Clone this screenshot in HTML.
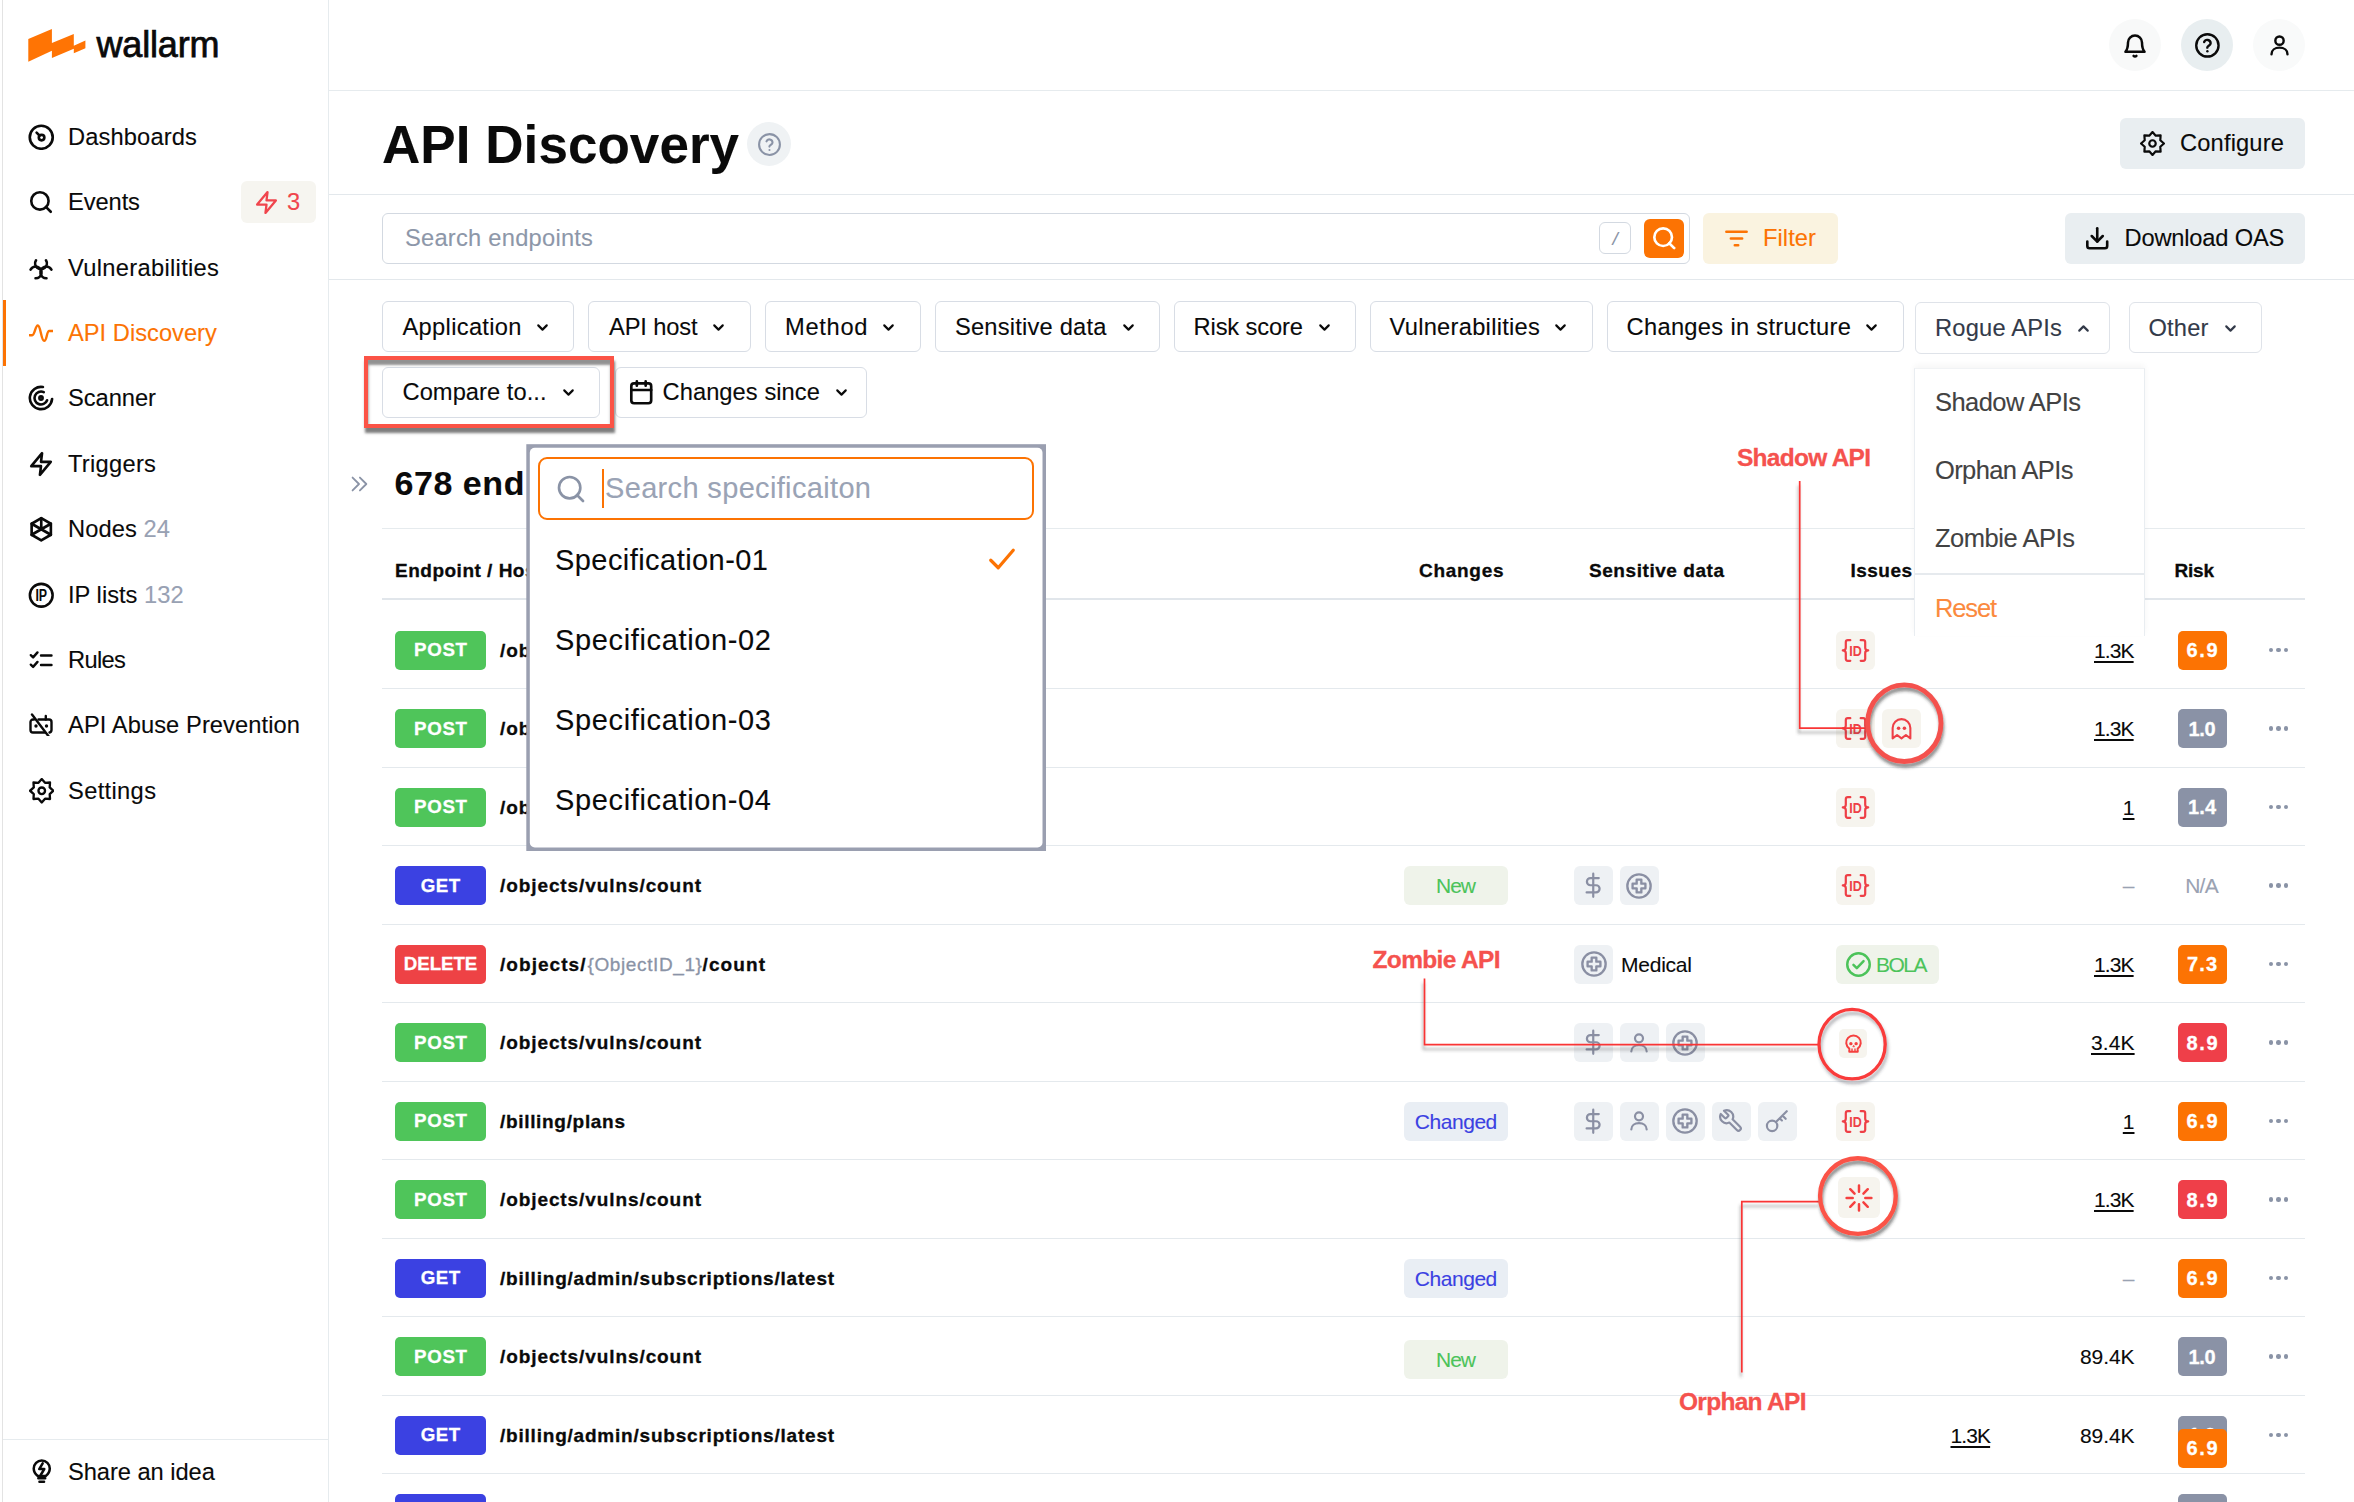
<!DOCTYPE html>
<html lang="en"><head><meta charset="utf-8"><title>API Discovery - Wallarm</title>
<style>
html,body{margin:0;padding:0;background:#fff}
body{width:2354px;height:1502px;position:relative;overflow:hidden;font-family:"Liberation Sans",sans-serif}
.b{position:absolute;display:block}
.t{position:absolute;white-space:nowrap;display:block;-webkit-text-stroke:0.1px currentColor}
</style></head><body>
<aside><nav>
<div class="b" style="left:2px;top:0px;width:1px;height:1502px;background:#e3e3e3"></div>
<div class="b" style="left:328px;top:0px;width:1px;height:1502px;background:#e6ebee"></div>
<svg class="b" style="left:0;top:0" width="100" height="70" viewBox="0 0 100 70"><path fill="#ff7404" d="M28.300 39.100L51.900 28.900V43.100L73.800 34V45.700L85.400 40.400V48.200L73.800 53.300V48.700L51.900 57.900V50.800L28.300 61.800z"/></svg>
<span class="t" style="left:96.5px;top:20.6px;font-size:36px;line-height:47px;color:#0a0a0a;letter-spacing:-0.17px;-webkit-text-stroke:0.75px #0a0a0a;">wallarm</span>
<svg class="b" style="left:28.05px;top:123.55px;" width="26.5" height="26.5" viewBox="0 0 24 24" fill="none" stroke="#0a0a0a" stroke-width="2.4" stroke-linecap="round" stroke-linejoin="round"><circle cx="12" cy="12" r="10.400"/><circle cx="12.300" cy="12.300" r="2.500"/><path d="M10.500 10.500L7.800 7.800"/></svg>
<span class="t" style="left:68.0px;top:121.8px;font-size:23.7px;line-height:31px;color:#0a0a0a;letter-spacing:0.13px;">Dashboards</span>
<svg class="b" style="left:27.7px;top:189.3px;" width="26" height="26" viewBox="0 0 24 24" fill="none" stroke="#0a0a0a" stroke-width="2.4" stroke-linecap="round" stroke-linejoin="round"><circle cx="11" cy="11" r="8"/><path d="M21 21l-4.5-4.5"/></svg>
<span class="t" style="left:68.0px;top:187.2px;font-size:23.7px;line-height:31px;color:#0a0a0a;letter-spacing:-0.09px;">Events</span>
<svg class="b" style="left:28.3px;top:254.6px;" width="26" height="26" viewBox="0 0 24 24" fill="none" stroke="#0a0a0a" stroke-width="2.4" stroke-linecap="round" stroke-linejoin="round"><path d="M16.58 4.84A5.40 5.40 0 1 1 7.42 4.84"/><path d="M17.04 21.50A5.40 5.40 0 1 1 21.62 13.56"/><path d="M2.38 13.56A5.40 5.40 0 1 1 6.96 21.50"/></svg>
<span class="t" style="left:68.0px;top:252.6px;font-size:23.7px;line-height:31px;color:#0a0a0a;letter-spacing:0.31px;">Vulnerabilities</span>
<svg class="b" style="left:29.3px;top:320.7px;" width="24" height="24" viewBox="0 0 24 24" fill="none" stroke="#fc7303" stroke-width="2.4" stroke-linecap="round" stroke-linejoin="round"><path d="M0.5 14.2h2.700c2.600 0 3-9.700 5.600-9.700c3 0 3.200 15.300 6.400 15.300c2.800 0 2.400-9.800 4.900-9.800H23.500"/></svg>
<span class="t" style="left:68.0px;top:318.0px;font-size:23.7px;line-height:31px;color:#fc7303;letter-spacing:0.01px;">API Discovery</span>
<svg class="b" style="left:28.3px;top:385.4px;" width="26" height="26" viewBox="0 0 24 24" fill="none" stroke="#0a0a0a" stroke-width="2.4" stroke-linecap="round" stroke-linejoin="round"><path d="M13.79 1.86A10.3 10.3 0 1 0 22.26 12.90"/><path d="M14.54 6.56A6 6 0 1 0 17.64 14.05"/><circle cx="12" cy="12" r="1.500"/></svg>
<span class="t" style="left:68.0px;top:383.4px;font-size:23.7px;line-height:31px;color:#0a0a0a;letter-spacing:-0.05px;">Scanner</span>
<svg class="b" style="left:28.2px;top:450.8px;" width="26" height="26" viewBox="0 0 24 24" fill="none" stroke="#0a0a0a" stroke-width="2.4" stroke-linecap="round" stroke-linejoin="round"><path d="M13 2L3 14h9l-1 8 10-12h-9l1-8z"/></svg>
<span class="t" style="left:68.0px;top:448.8px;font-size:23.7px;line-height:31px;color:#0a0a0a;letter-spacing:0.28px;">Triggers</span>
<svg class="b" style="left:28.05px;top:515.95px;" width="26.5" height="26.5" viewBox="0 0 24 24" fill="none" stroke="#0a0a0a" stroke-width="2.4" stroke-linecap="round" stroke-linejoin="round"><path d="M12 2l8.700 5v10L12 22l-8.700-5V7z"/><path d="M12 2v10M12 12l8.700 5M12 12l-8.700 5M3.300 7L12 12M20.700 7L12 12" /></svg>
<span class="t" style="left:68.0px;top:514.2px;font-size:23.7px;line-height:31px;color:#0a0a0a;letter-spacing:0.12px;">Nodes</span>
<span class="t" style="left:143.5px;top:514.2px;font-size:23.7px;line-height:31px;color:#98a1b3;letter-spacing:0.1px;">24</span>
<svg class="b" style="left:28.25px;top:581.55px;" width="26.5" height="26.5" viewBox="0 0 24 24" fill="none" stroke="#0a0a0a" stroke-width="2.3" stroke-linecap="round" stroke-linejoin="round"><circle cx="12" cy="12" r="10.300"/><text x="12" y="17.100" text-anchor="middle" font-family="Liberation Sans, sans-serif" font-weight="700" font-size="14.300" textLength="10.600" lengthAdjust="spacingAndGlyphs" fill="#0a0a0a" stroke="none">IP</text></svg>
<span class="t" style="left:68.0px;top:579.6px;font-size:23.7px;line-height:31px;color:#0a0a0a;letter-spacing:0.02px;">IP lists</span>
<span class="t" style="left:144.0px;top:579.6px;font-size:23.7px;line-height:31px;color:#98a1b3;letter-spacing:0.1px;">132</span>
<svg class="b" style="left:29.3px;top:648px;" width="24" height="24" viewBox="0 0 24 24" fill="none" stroke="#0a0a0a" stroke-width="2.4" stroke-linecap="round" stroke-linejoin="round"><path d="M1.800 7.200l2.300 2.200 4.400-5M1.800 16.700l2.300 2.200 4.400-5M12 7.500h10.500M12 17h10.500"/></svg>
<span class="t" style="left:68.0px;top:645.0px;font-size:23.7px;line-height:31px;color:#0a0a0a;letter-spacing:-0.65px;">Rules</span>
<svg class="b" style="left:29.3px;top:711.8px;" width="24" height="24" viewBox="0 0 24 24" fill="none" stroke="#0a0a0a" stroke-width="2.4" stroke-linecap="round" stroke-linejoin="round"><path d="M9.500 7.500H20a2.500 2.500 0 0 1 2.500 2.500v8a2.500 2.500 0 0 1-2 2.450M16 20.500H4A2.500 2.500 0 0 1 1.500 18v-8a2.500 2.500 0 0 1 2.500-2.500h1"/><path d="M16.800 7.500V4M3 2.500l17.500 23"/><path d="M7 14v.1M17.500 14v.1" stroke-width="3.400"/></svg>
<span class="t" style="left:68.0px;top:710.4px;font-size:23.7px;line-height:31px;color:#0a0a0a;letter-spacing:0.08px;">API Abuse Prevention</span>
<svg class="b" style="left:28.55px;top:778.05px;" width="25.5" height="25.5" viewBox="0 0 24 24" fill="none" stroke="#0a0a0a" stroke-width="2.2" stroke-linecap="round" stroke-linejoin="round"><path d="M12.00 1.00L15.10 4.52L19.78 4.22L19.48 8.90L23.00 12.00L19.48 15.10L19.78 19.78L15.10 19.48L12.00 23.00L8.90 19.48L4.22 19.78L4.52 15.10L1.00 12.00L4.52 8.90L4.22 4.22L8.90 4.52z"/><circle cx="12" cy="12" r="3.100"/></svg>
<span class="t" style="left:68.0px;top:775.8px;font-size:23.7px;line-height:31px;color:#0a0a0a;letter-spacing:0.34px;">Settings</span>
<div class="b" style="left:2.5px;top:300px;width:3.5px;height:66px;background:#fc7303"></div>
<div class="b" style="left:241px;top:181px;width:75px;height:42px;background:#f6f5f0;border-radius:6px"></div>
<svg class="b" style="left:254px;top:190px;" width="25" height="25" viewBox="0 0 24 24" fill="none" stroke="#f0454d" stroke-width="2.2" stroke-linecap="round" stroke-linejoin="round"><path d="M13 2L3 14h9l-1 8 10-12h-9l1-8z"/></svg>
<span class="t" style="left:287.0px;top:187.3px;font-size:23.7px;line-height:31px;color:#f0454d;">3</span>
<div class="b" style="left:3px;top:1439px;width:325px;height:1px;background:#e6ebee"></div>
<svg class="b" style="left:27.55px;top:1457.05px;" width="27.5" height="27.5" viewBox="0 0 24 24" fill="none" stroke="#0a0a0a" stroke-width="2.2" stroke-linecap="round" stroke-linejoin="round"><path d="M9 18.500h6M10 21.500h4"/><path d="M8.500 16.500C6.500 15 5 13 5 10a7 7 0 0 1 14 0c0 3-1.500 5-3.500 6.500z"/><path d="M12.800 5.500L9.800 10.500h4.400l-3 5"/></svg>
<span class="t" style="left:68.0px;top:1457.0px;font-size:23.7px;line-height:31px;color:#0a0a0a;letter-spacing:-0.05px;">Share an idea</span>
</nav></aside><header>
<div class="b" style="left:329px;top:90px;width:2025px;height:1px;background:#e6ebee"></div>
<div class="b" style="left:2109px;top:19px;width:52px;height:52px;background:#f8f9f9;border-radius:50%"></div>
<svg class="b" style="left:2121px;top:31.5px;" width="28" height="28" viewBox="0 0 24 24" fill="none" stroke="#0a0a0a" stroke-width="2.15" stroke-linecap="round" stroke-linejoin="round"><path d="M18 9a6 6 0 0 0-12 0c0 5-1.2 6.8-2.2 8h16.400c-1-1.200-2.200-3-2.200-8z"/><path d="M10.800 20.500a1.600 1.600 0 0 0 2.400 0"/></svg>
<div class="b" style="left:2181px;top:19px;width:52px;height:52px;background:#e8eef0;border-radius:50%"></div>
<svg class="b" style="left:2193.6px;top:32.1px;" width="26.8" height="26.8" viewBox="0 0 24 24" fill="none" stroke="#0a0a0a" stroke-width="2.15" stroke-linecap="round" stroke-linejoin="round"><circle cx="12" cy="12" r="10"/><path d="M9.100 9a3 3 0 0 1 5.800 1c0 2-3 2.600-3 4"/><path d="M12 17.200v.1"/></svg>
<div class="b" style="left:2253px;top:19px;width:52px;height:52px;background:#f9fafa;border-radius:50%"></div>
<svg class="b" style="left:2265.5px;top:32px;" width="27" height="27" viewBox="0 0 24 24" fill="none" stroke="#0a0a0a" stroke-width="2.15" stroke-linecap="round" stroke-linejoin="round"><circle cx="12" cy="7.700" r="3.700"/><path d="M4.900 19.800c0-3.700 3.200-5.900 7.100-5.900s7.100 2.200 7.100 5.900"/></svg>
</header><main><section>
<span class="t" style="left:382.0px;top:110.0px;font-size:53px;line-height:69px;color:#0a0a0a;letter-spacing:0.05px;font-weight:700;">API Discovery</span>
<div class="b" style="left:747px;top:122px;width:44px;height:44px;background:#eff2f4;border-radius:50%"></div>
<svg class="b" style="left:756.5px;top:131.5px;" width="25" height="25" viewBox="0 0 24 24" fill="none" stroke="#8a93a6" stroke-width="2" stroke-linecap="round" stroke-linejoin="round"><circle cx="12" cy="12" r="10"/><path d="M9.100 9a3 3 0 0 1 5.800 1c0 2-3 2.600-3 4"/><path d="M12 17.200v.1"/></svg>
<div class="b" style="left:2120px;top:117.5px;width:185px;height:51.5px;background:#e9eef1;border-radius:6px"></div>
<svg class="b" style="left:2140px;top:130.5px;" width="25" height="25" viewBox="0 0 24 24" fill="none" stroke="#0a0a0a" stroke-width="2.1" stroke-linecap="round" stroke-linejoin="round"><path d="M12.00 1.00L15.10 4.52L19.78 4.22L19.48 8.90L23.00 12.00L19.48 15.10L19.78 19.78L15.10 19.48L12.00 23.00L8.90 19.48L4.22 19.78L4.52 15.10L1.00 12.00L4.52 8.90L4.22 4.22L8.90 4.52z"/><circle cx="12" cy="12" r="3.100"/></svg>
<span class="t" style="left:2180.0px;top:128.0px;font-size:23.7px;line-height:31px;color:#0a0a0a;letter-spacing:0.15px;">Configure</span>
<div class="b" style="left:329px;top:194px;width:2025px;height:1px;background:#e3e8ec"></div>
</section><section>
<div class="b" style="left:382px;top:212.5px;width:1308px;height:51.5px;border:1px solid #d3d9e1;border-radius:6px;box-sizing:border-box;background:#fff"></div>
<span class="t" style="left:405.0px;top:222.5px;font-size:23.7px;line-height:31px;color:#8d97a9;letter-spacing:0.24px;">Search endpoints</span>
<div class="b" style="left:1598.5px;top:222px;width:32.5px;height:32px;border:1px solid #d3d9e1;border-radius:6px;box-sizing:border-box;background:#fff"></div>
<span class="t" style="left:1612.4px;top:225.5px;font-size:19px;line-height:25px;color:#8a93a6;font-style:italic;">/</span>
<div class="b" style="left:1644px;top:218.5px;width:39.5px;height:39px;background:#fc7303;border-radius:6px"></div>
<svg class="b" style="left:1650.75px;top:225.05px;" width="26.5" height="26.5" viewBox="0 0 24 24" fill="none" stroke="#fff" stroke-width="2.4" stroke-linecap="round" stroke-linejoin="round"><circle cx="11" cy="11" r="8"/><path d="M21 21l-4.5-4.5"/></svg>
<div class="b" style="left:1703px;top:212.5px;width:134.5px;height:51.5px;background:#faf3e0;border-radius:6px"></div>
<svg class="b" style="left:1722.5px;top:225px;" width="27" height="27" viewBox="0 0 24 24" fill="none" stroke="#fc7303" stroke-width="2.3" stroke-linecap="round" stroke-linejoin="round"><path d="M3 6h18M7 12h10M10.500 18h3"/></svg>
<span class="t" style="left:1763.0px;top:222.5px;font-size:23.7px;line-height:31px;color:#fc7303;letter-spacing:0.07px;">Filter</span>
<div class="b" style="left:2064.5px;top:212.5px;width:240.5px;height:51.5px;background:#e9eef1;border-radius:6px"></div>
<svg class="b" style="left:2083.95px;top:224.85px;" width="26.5" height="26.5" viewBox="0 0 24 24" fill="none" stroke="#0a0a0a" stroke-width="2.35" stroke-linecap="round" stroke-linejoin="round"><path d="M21 15v4a2 2 0 0 1-2 2H5a2 2 0 0 1-2-2v-4"/><path d="M7 10l5 5 5-5"/><path d="M12 15V3"/></svg>
<span class="t" style="left:2124.5px;top:222.5px;font-size:23.7px;line-height:31px;color:#0a0a0a;letter-spacing:-0.19px;">Download OAS</span>
<div class="b" style="left:329px;top:279px;width:2025px;height:1px;background:#e3e8ec"></div>
</section><section>
<div class="b" style="left:382px;top:301px;width:192px;height:51px;border:1px solid #d8dde5;border-radius:6px;box-sizing:border-box;background:#fff"></div>
<span class="t" style="left:402.5px;top:311.5px;font-size:23.7px;line-height:31px;color:#0a0a0a;letter-spacing:0.31px;">Application</span>
<svg class="b" style="left:533.5px;top:318.5px;" width="17" height="17" viewBox="0 0 24 24" fill="none" stroke="#0a0a0a" stroke-width="3" stroke-linecap="round" stroke-linejoin="round"><path d="M6 9l6 6 6-6"/></svg>
<div class="b" style="left:588px;top:301px;width:162.5px;height:51px;border:1px solid #d8dde5;border-radius:6px;box-sizing:border-box;background:#fff"></div>
<span class="t" style="left:609.0px;top:311.5px;font-size:23.7px;line-height:31px;color:#0a0a0a;letter-spacing:-0.15px;">API host</span>
<svg class="b" style="left:710px;top:318.5px;" width="17" height="17" viewBox="0 0 24 24" fill="none" stroke="#0a0a0a" stroke-width="3" stroke-linecap="round" stroke-linejoin="round"><path d="M6 9l6 6 6-6"/></svg>
<div class="b" style="left:764.5px;top:301px;width:156.5px;height:51px;border:1px solid #d8dde5;border-radius:6px;box-sizing:border-box;background:#fff"></div>
<span class="t" style="left:785.0px;top:311.5px;font-size:23.7px;line-height:31px;color:#0a0a0a;letter-spacing:0.69px;">Method</span>
<svg class="b" style="left:880px;top:318.5px;" width="17" height="17" viewBox="0 0 24 24" fill="none" stroke="#0a0a0a" stroke-width="3" stroke-linecap="round" stroke-linejoin="round"><path d="M6 9l6 6 6-6"/></svg>
<div class="b" style="left:934.5px;top:301px;width:225px;height:51px;border:1px solid #d8dde5;border-radius:6px;box-sizing:border-box;background:#fff"></div>
<span class="t" style="left:955.0px;top:311.5px;font-size:23.7px;line-height:31px;color:#0a0a0a;letter-spacing:0.20px;">Sensitive data</span>
<svg class="b" style="left:1119.5px;top:318.5px;" width="17" height="17" viewBox="0 0 24 24" fill="none" stroke="#0a0a0a" stroke-width="3" stroke-linecap="round" stroke-linejoin="round"><path d="M6 9l6 6 6-6"/></svg>
<div class="b" style="left:1173.5px;top:301px;width:182px;height:51px;border:1px solid #d8dde5;border-radius:6px;box-sizing:border-box;background:#fff"></div>
<span class="t" style="left:1193.5px;top:311.5px;font-size:23.7px;line-height:31px;color:#0a0a0a;letter-spacing:-0.12px;">Risk score</span>
<svg class="b" style="left:1315.5px;top:318.5px;" width="17" height="17" viewBox="0 0 24 24" fill="none" stroke="#0a0a0a" stroke-width="3" stroke-linecap="round" stroke-linejoin="round"><path d="M6 9l6 6 6-6"/></svg>
<div class="b" style="left:1370px;top:301px;width:223px;height:51px;border:1px solid #d8dde5;border-radius:6px;box-sizing:border-box;background:#fff"></div>
<span class="t" style="left:1389.5px;top:311.5px;font-size:23.7px;line-height:31px;color:#0a0a0a;letter-spacing:0.27px;">Vulnerabilities</span>
<svg class="b" style="left:1552px;top:318.5px;" width="17" height="17" viewBox="0 0 24 24" fill="none" stroke="#0a0a0a" stroke-width="3" stroke-linecap="round" stroke-linejoin="round"><path d="M6 9l6 6 6-6"/></svg>
<div class="b" style="left:1607px;top:301px;width:296.5px;height:51px;border:1px solid #d8dde5;border-radius:6px;box-sizing:border-box;background:#fff"></div>
<span class="t" style="left:1626.5px;top:311.5px;font-size:23.7px;line-height:31px;color:#0a0a0a;letter-spacing:0.31px;">Changes in structure</span>
<svg class="b" style="left:1863px;top:318.5px;" width="17" height="17" viewBox="0 0 24 24" fill="none" stroke="#0a0a0a" stroke-width="3" stroke-linecap="round" stroke-linejoin="round"><path d="M6 9l6 6 6-6"/></svg>
<div class="b" style="left:1915px;top:301.5px;width:195px;height:52px;border:1px solid #dfe3e9;border-radius:6px;box-sizing:border-box;background:#fff"></div>
<span class="t" style="left:1935.0px;top:312.5px;font-size:23.7px;line-height:31px;color:#333a49;letter-spacing:0.20px;">Rogue APIs</span>
<svg class="b" style="left:2075px;top:319.5px;" width="17" height="17" viewBox="0 0 24 24" fill="none" stroke="#333a49" stroke-width="3" stroke-linecap="round" stroke-linejoin="round"><path d="M6 15l6-6 6 6"/></svg>
<div class="b" style="left:2128.5px;top:302px;width:133.5px;height:51px;border:1px solid #dfe3e9;border-radius:6px;box-sizing:border-box;background:#fff"></div>
<span class="t" style="left:2148.5px;top:312.5px;font-size:23.7px;line-height:31px;color:#333a49;letter-spacing:0.18px;">Other</span>
<svg class="b" style="left:2221.5px;top:319.5px;" width="17" height="17" viewBox="0 0 24 24" fill="none" stroke="#333a49" stroke-width="3" stroke-linecap="round" stroke-linejoin="round"><path d="M6 9l6 6 6-6"/></svg>
<div class="b" style="left:382px;top:366.5px;width:218px;height:51px;border:1px solid #d8dde5;border-radius:6px;box-sizing:border-box;background:#fff"></div>
<span class="t" style="left:402.5px;top:377.0px;font-size:23.7px;line-height:31px;color:#0a0a0a;letter-spacing:0.04px;">Compare to...</span>
<svg class="b" style="left:560px;top:384px;" width="17" height="17" viewBox="0 0 24 24" fill="none" stroke="#0a0a0a" stroke-width="3" stroke-linecap="round" stroke-linejoin="round"><path d="M6 9l6 6 6-6"/></svg>
<div class="b" style="left:615px;top:366.5px;width:252px;height:51px;border:1px solid #d8dde5;border-radius:6px;box-sizing:border-box;background:#fff"></div>
<span class="t" style="left:662.5px;top:377.0px;font-size:23.7px;line-height:31px;color:#0a0a0a;letter-spacing:0.06px;">Changes since</span>
<svg class="b" style="left:832.5px;top:384px;" width="17" height="17" viewBox="0 0 24 24" fill="none" stroke="#0a0a0a" stroke-width="3" stroke-linecap="round" stroke-linejoin="round"><path d="M6 9l6 6 6-6"/></svg>
<svg class="b" style="left:628.25px;top:378.75px;" width="26.5" height="26.5" viewBox="0 0 24 24" fill="none" stroke="#0a0a0a" stroke-width="2.4" stroke-linecap="round" stroke-linejoin="round"><rect x="3" y="4" width="18" height="18" rx="2.500"/><path d="M16 2v4M8 2v4M3 10h18"/></svg>
</section><section>
<svg class="b" style="left:347.5px;top:472.5px;" width="22" height="22" viewBox="0 0 24 24" fill="none" stroke="#8a93a6" stroke-width="2" stroke-linecap="round" stroke-linejoin="round"><path d="M5 5l7 7-7 7M13 5l7 7-7 7"/></svg>
<span class="t" style="left:394.5px;top:461.4px;font-size:34px;line-height:44px;color:#0a0a0a;font-weight:700;letter-spacing:0.55px;width:130px;overflow:hidden;">678 endpoints</span>
<div class="b" style="left:382px;top:528px;width:1923px;height:1px;background:#e6ebee"></div>
<span class="t" style="left:395.0px;top:557.5px;font-size:19px;line-height:25px;color:#0a0a0a;font-weight:700;-webkit-text-stroke:0.3px currentColor;letter-spacing:0.5px;">Endpoint / Host</span>
<span class="t" style="left:1419.0px;top:557.5px;font-size:19px;line-height:25px;color:#0a0a0a;letter-spacing:0.71px;font-weight:700;-webkit-text-stroke:0.3px currentColor;">Changes</span>
<span class="t" style="left:1589.0px;top:557.5px;font-size:19px;line-height:25px;color:#0a0a0a;letter-spacing:0.56px;font-weight:700;-webkit-text-stroke:0.3px currentColor;">Sensitive data</span>
<span class="t" style="left:1850.5px;top:557.5px;font-size:19px;line-height:25px;color:#0a0a0a;letter-spacing:0.47px;font-weight:700;-webkit-text-stroke:0.3px currentColor;">Issues</span>
<span class="t" style="left:2174.5px;top:557.5px;font-size:19px;line-height:25px;color:#0a0a0a;letter-spacing:-0.21px;font-weight:700;-webkit-text-stroke:0.3px currentColor;">Risk</span>
<div class="b" style="left:382px;top:597.5px;width:1923px;height:2px;background:#e1e6eb"></div>
<div class="b" style="left:395px;top:630.5px;width:91px;height:39px;background:#4fc55a;border-radius:5px"></div>
<span class="t" style="left:414.0px;top:638.0px;font-size:18.7px;line-height:24px;color:#fff;letter-spacing:0.70px;font-weight:700;-webkit-text-stroke:0.3px currentColor;">POST</span>
<span class="t" style="left:500.0px;top:637.5px;font-size:19px;line-height:25px;color:#0a0a0a;letter-spacing:0.91px;font-weight:700;-webkit-text-stroke:0.3px currentColor;">/objects/vulns/count</span>
<div class="b" style="left:1835.5px;top:630.5px;width:39px;height:39px;background:#f6f4ee;border-radius:6px"></div>
<svg class="b" style="left:1835.5px;top:630.5px" width="39" height="39" viewBox="0 0 39 39"><g fill="none" stroke="#ee3f46" stroke-width="2.200" stroke-linecap="round" stroke-linejoin="round"><path d="M14.300 9.200H11.800a2 2 0 0 0-2 2v5.600c0 1.500-1 2.600-3 2.600c2 0 3 1.100 3 2.600v5.800a2 2 0 0 0 2 2h2.500"/><path d="M24.700 9.200h2.500a2 2 0 0 1 2 2v5.600c0 1.500 1 2.600 3 2.600c-2 0-3 1.100-3 2.600v5.800a2 2 0 0 1-2 2h-2.500"/></g><text x="19.600" y="24.700" font-family="Liberation Sans, sans-serif" font-size="14.500" font-weight="700" text-anchor="middle" fill="#ee3f46" textLength="12.500" lengthAdjust="spacingAndGlyphs">ID</text></svg>
<span class="t" style="left:2094.0px;top:636.5px;font-size:21px;line-height:27px;color:#0a0a0a;letter-spacing:-0.90px;text-decoration:underline;text-decoration-thickness:1.5px;text-underline-offset:3px;">1.3K</span>
<div class="b" style="left:2177.5px;top:630.5px;width:49px;height:39px;background:#fc7303;border-radius:5px"></div>
<span class="t" style="left:2186.5px;top:637.0px;font-size:20px;line-height:26px;color:#fff;letter-spacing:1.60px;font-weight:700;-webkit-text-stroke:0.3px currentColor;">6.9</span>
<div class="b" style="left:2268.7px;top:647.7px;width:4.6px;height:4.6px;background:#8a93a6;border-radius:50%"></div>
<div class="b" style="left:2276.2px;top:647.7px;width:4.6px;height:4.6px;background:#8a93a6;border-radius:50%"></div>
<div class="b" style="left:2283.7px;top:647.7px;width:4.6px;height:4.6px;background:#8a93a6;border-radius:50%"></div>
<div class="b" style="left:382px;top:688.3px;width:1923px;height:1px;background:#e4e9ed"></div>
<div class="b" style="left:395px;top:709px;width:91px;height:39px;background:#4fc55a;border-radius:5px"></div>
<span class="t" style="left:414.0px;top:716.5px;font-size:18.7px;line-height:24px;color:#fff;letter-spacing:0.70px;font-weight:700;-webkit-text-stroke:0.3px currentColor;">POST</span>
<span class="t" style="left:500.0px;top:716.0px;font-size:19px;line-height:25px;color:#0a0a0a;letter-spacing:0.91px;font-weight:700;-webkit-text-stroke:0.3px currentColor;">/objects/vulns/count</span>
<div class="b" style="left:1835.5px;top:709px;width:39px;height:39px;background:#f6f4ee;border-radius:6px"></div>
<svg class="b" style="left:1835.5px;top:709px" width="39" height="39" viewBox="0 0 39 39"><g fill="none" stroke="#ee3f46" stroke-width="2.200" stroke-linecap="round" stroke-linejoin="round"><path d="M14.300 9.200H11.800a2 2 0 0 0-2 2v5.600c0 1.500-1 2.600-3 2.600c2 0 3 1.100 3 2.600v5.800a2 2 0 0 0 2 2h2.500"/><path d="M24.700 9.200h2.500a2 2 0 0 1 2 2v5.600c0 1.500 1 2.600 3 2.600c-2 0-3 1.100-3 2.600v5.800a2 2 0 0 1-2 2h-2.500"/></g><text x="19.600" y="24.700" font-family="Liberation Sans, sans-serif" font-size="14.500" font-weight="700" text-anchor="middle" fill="#ee3f46" textLength="12.500" lengthAdjust="spacingAndGlyphs">ID</text></svg>
<div class="b" style="left:1881.5px;top:709px;width:39px;height:39px;background:#f6f4ee;border-radius:6px"></div>
<svg class="b" style="left:1888.5px;top:716px;color:#ee3f46" width="25" height="25" viewBox="0 0 24 24" fill="none" stroke="#ee3f46" stroke-width="2" stroke-linecap="round" stroke-linejoin="round"><path d="M3.500 21.500V11.500a8.500 8.500 0 0 1 17 0V21.500l-4.250-3.300L12 21.500l-4.250-3.300z"/><circle cx="9.200" cy="11.800" r="1.700" fill="currentColor" stroke="none"/><circle cx="14.800" cy="11.800" r="1.700" fill="currentColor" stroke="none"/></svg>
<span class="t" style="left:2094.0px;top:715.0px;font-size:21px;line-height:27px;color:#0a0a0a;letter-spacing:-0.90px;text-decoration:underline;text-decoration-thickness:1.5px;text-underline-offset:3px;">1.3K</span>
<div class="b" style="left:2177.5px;top:709px;width:49px;height:39px;background:#8a92a6;border-radius:5px"></div>
<span class="t" style="left:2188.5px;top:715.5px;font-size:20px;line-height:26px;color:#fff;letter-spacing:-0.40px;font-weight:700;-webkit-text-stroke:0.3px currentColor;">1.0</span>
<div class="b" style="left:2268.7px;top:726.2px;width:4.6px;height:4.6px;background:#8a93a6;border-radius:50%"></div>
<div class="b" style="left:2276.2px;top:726.2px;width:4.6px;height:4.6px;background:#8a93a6;border-radius:50%"></div>
<div class="b" style="left:2283.7px;top:726.2px;width:4.6px;height:4.6px;background:#8a93a6;border-radius:50%"></div>
<div class="b" style="left:382px;top:766.8px;width:1923px;height:1px;background:#e4e9ed"></div>
<div class="b" style="left:395px;top:787.5px;width:91px;height:39px;background:#4fc55a;border-radius:5px"></div>
<span class="t" style="left:414.0px;top:795.0px;font-size:18.7px;line-height:24px;color:#fff;letter-spacing:0.70px;font-weight:700;-webkit-text-stroke:0.3px currentColor;">POST</span>
<span class="t" style="left:500.0px;top:794.5px;font-size:19px;line-height:25px;color:#0a0a0a;letter-spacing:0.91px;font-weight:700;-webkit-text-stroke:0.3px currentColor;">/objects/vulns/count</span>
<div class="b" style="left:1835.5px;top:787.5px;width:39px;height:39px;background:#f6f4ee;border-radius:6px"></div>
<svg class="b" style="left:1835.5px;top:787.5px" width="39" height="39" viewBox="0 0 39 39"><g fill="none" stroke="#ee3f46" stroke-width="2.200" stroke-linecap="round" stroke-linejoin="round"><path d="M14.300 9.200H11.800a2 2 0 0 0-2 2v5.600c0 1.500-1 2.600-3 2.600c2 0 3 1.100 3 2.600v5.800a2 2 0 0 0 2 2h2.500"/><path d="M24.700 9.200h2.500a2 2 0 0 1 2 2v5.600c0 1.500 1 2.600 3 2.600c-2 0-3 1.100-3 2.600v5.800a2 2 0 0 1-2 2h-2.500"/></g><text x="19.600" y="24.700" font-family="Liberation Sans, sans-serif" font-size="14.500" font-weight="700" text-anchor="middle" fill="#ee3f46" textLength="12.500" lengthAdjust="spacingAndGlyphs">ID</text></svg>
<span class="t" style="left:2122.8px;top:793.5px;font-size:21px;line-height:27px;color:#0a0a0a;text-decoration:underline;text-decoration-thickness:1.5px;text-underline-offset:3px;">1</span>
<div class="b" style="left:2177.5px;top:787.5px;width:49px;height:39px;background:#8a92a6;border-radius:5px"></div>
<span class="t" style="left:2188.0px;top:794.0px;font-size:20px;line-height:26px;color:#fff;letter-spacing:0.10px;font-weight:700;-webkit-text-stroke:0.3px currentColor;">1.4</span>
<div class="b" style="left:2268.7px;top:804.7px;width:4.6px;height:4.6px;background:#8a93a6;border-radius:50%"></div>
<div class="b" style="left:2276.2px;top:804.7px;width:4.6px;height:4.6px;background:#8a93a6;border-radius:50%"></div>
<div class="b" style="left:2283.7px;top:804.7px;width:4.6px;height:4.6px;background:#8a93a6;border-radius:50%"></div>
<div class="b" style="left:382px;top:845.3px;width:1923px;height:1px;background:#e4e9ed"></div>
<div class="b" style="left:395px;top:866px;width:91px;height:39px;background:#3b41e2;border-radius:5px"></div>
<span class="t" style="left:420.8px;top:873.5px;font-size:18.7px;line-height:24px;color:#fff;letter-spacing:0.53px;font-weight:700;-webkit-text-stroke:0.3px currentColor;">GET</span>
<span class="t" style="left:500.0px;top:873.0px;font-size:19px;line-height:25px;color:#0a0a0a;letter-spacing:0.91px;font-weight:700;-webkit-text-stroke:0.3px currentColor;">/objects/vulns/count</span>
<div class="b" style="left:1404px;top:866px;width:104px;height:39px;background:#eff3ea;border-radius:6px"></div>
<span class="t" style="left:1436.0px;top:872.0px;font-size:21px;line-height:27px;color:#4cc35a;letter-spacing:-1.01px;">New</span>
<div class="b" style="left:1574px;top:866px;width:39px;height:39px;background:#eef1f4;border-radius:6px"></div>
<svg class="b" style="left:1580.25px;top:872.25px;" width="26.5" height="26.5" viewBox="0 0 24 24" fill="none" stroke="#8a8fa3" stroke-width="2" stroke-linecap="round" stroke-linejoin="round"><path d="M12 1.500v21M17 5.500H9.500a3.250 3.250 0 0 0 0 6.500h5a3.250 3.250 0 0 1 0 6.500H6"/></svg>
<div class="b" style="left:1619.9px;top:866px;width:39px;height:39px;background:#eef1f4;border-radius:6px"></div>
<svg class="b" style="left:1625.4px;top:871.5px;" width="28" height="28" viewBox="0 0 24 24" fill="none" stroke="#8a8fa3" stroke-width="2" stroke-linecap="round" stroke-linejoin="round"><circle cx="12" cy="12" r="10"/><path d="M10 6.500h4V10h3.500v4H14v3.500h-4V14H6.500v-4H10z"/></svg>
<div class="b" style="left:1835.5px;top:866px;width:39px;height:39px;background:#f6f4ee;border-radius:6px"></div>
<svg class="b" style="left:1835.5px;top:866px" width="39" height="39" viewBox="0 0 39 39"><g fill="none" stroke="#ee3f46" stroke-width="2.200" stroke-linecap="round" stroke-linejoin="round"><path d="M14.300 9.200H11.800a2 2 0 0 0-2 2v5.600c0 1.500-1 2.600-3 2.600c2 0 3 1.100 3 2.600v5.800a2 2 0 0 0 2 2h2.500"/><path d="M24.700 9.200h2.500a2 2 0 0 1 2 2v5.600c0 1.500 1 2.600 3 2.600c-2 0-3 1.100-3 2.600v5.800a2 2 0 0 1-2 2h-2.500"/></g><text x="19.600" y="24.700" font-family="Liberation Sans, sans-serif" font-size="14.500" font-weight="700" text-anchor="middle" fill="#ee3f46" textLength="12.500" lengthAdjust="spacingAndGlyphs">ID</text></svg>
<span class="t" style="left:2122.8px;top:872.0px;font-size:21px;line-height:27px;color:#9aa2b2;">–</span>
<span class="t" style="left:2185.2px;top:872.0px;font-size:21px;line-height:27px;color:#9aa2b2;letter-spacing:-0.75px;">N/A</span>
<div class="b" style="left:2268.7px;top:883.2px;width:4.6px;height:4.6px;background:#8a93a6;border-radius:50%"></div>
<div class="b" style="left:2276.2px;top:883.2px;width:4.6px;height:4.6px;background:#8a93a6;border-radius:50%"></div>
<div class="b" style="left:2283.7px;top:883.2px;width:4.6px;height:4.6px;background:#8a93a6;border-radius:50%"></div>
<div class="b" style="left:382px;top:923.8px;width:1923px;height:1px;background:#e4e9ed"></div>
<div class="b" style="left:395px;top:944.5px;width:91px;height:39px;background:#ee4245;border-radius:5px"></div>
<span class="t" style="left:403.8px;top:952.0px;font-size:18.7px;line-height:24px;color:#fff;letter-spacing:-0.05px;font-weight:700;-webkit-text-stroke:0.3px currentColor;">DELETE</span>
<span class="t" style="left:500.0px;top:951.5px;font-size:19px;line-height:25px;color:#0a0a0a;letter-spacing:1.05px;font-weight:700;-webkit-text-stroke:0.3px currentColor;">/objects/</span>
<span class="t" style="left:587.5px;top:951.5px;font-size:19px;line-height:25px;color:#8a93a6;letter-spacing:0.61px;-webkit-text-stroke:0.3px #8a93a6;">{ObjectID_1}</span>
<span class="t" style="left:702.5px;top:951.5px;font-size:19px;line-height:25px;color:#0a0a0a;letter-spacing:1.10px;font-weight:700;-webkit-text-stroke:0.3px currentColor;">/count</span>
<div class="b" style="left:1574px;top:944.5px;width:39px;height:39px;background:#eef1f4;border-radius:6px"></div>
<svg class="b" style="left:1579.5px;top:950px;" width="28" height="28" viewBox="0 0 24 24" fill="none" stroke="#8a8fa3" stroke-width="2" stroke-linecap="round" stroke-linejoin="round"><circle cx="12" cy="12" r="10"/><path d="M10 6.500h4V10h3.500v4H14v3.500h-4V14H6.500v-4H10z"/></svg>
<span class="t" style="left:1621.0px;top:950.5px;font-size:21px;line-height:27px;color:#0a0a0a;letter-spacing:-0.23px;">Medical</span>
<div class="b" style="left:1835.5px;top:944.5px;width:103px;height:39px;background:#eff3ea;border-radius:6px"></div>
<svg class="b" style="left:1845.2px;top:950.5px;" width="27" height="27" viewBox="0 0 24 24" fill="none" stroke="#4cc35a" stroke-width="2.2" stroke-linecap="round" stroke-linejoin="round"><circle cx="12" cy="12" r="10"/><path d="M7.500 12.300l3 3 6-6.300"/></svg>
<span class="t" style="left:1876.0px;top:950.5px;font-size:21px;line-height:27px;color:#4cc35a;letter-spacing:-1.51px;">BOLA</span>
<span class="t" style="left:2094.0px;top:950.5px;font-size:21px;line-height:27px;color:#0a0a0a;letter-spacing:-0.90px;text-decoration:underline;text-decoration-thickness:1.5px;text-underline-offset:3px;">1.3K</span>
<div class="b" style="left:2177.5px;top:944.5px;width:49px;height:39px;background:#fc7303;border-radius:5px"></div>
<span class="t" style="left:2187.0px;top:951.0px;font-size:20px;line-height:26px;color:#fff;letter-spacing:1.10px;font-weight:700;-webkit-text-stroke:0.3px currentColor;">7.3</span>
<div class="b" style="left:2268.7px;top:961.7px;width:4.6px;height:4.6px;background:#8a93a6;border-radius:50%"></div>
<div class="b" style="left:2276.2px;top:961.7px;width:4.6px;height:4.6px;background:#8a93a6;border-radius:50%"></div>
<div class="b" style="left:2283.7px;top:961.7px;width:4.6px;height:4.6px;background:#8a93a6;border-radius:50%"></div>
<div class="b" style="left:382px;top:1002.3px;width:1923px;height:1px;background:#e4e9ed"></div>
<div class="b" style="left:395px;top:1023px;width:91px;height:39px;background:#4fc55a;border-radius:5px"></div>
<span class="t" style="left:414.0px;top:1030.5px;font-size:18.7px;line-height:24px;color:#fff;letter-spacing:0.70px;font-weight:700;-webkit-text-stroke:0.3px currentColor;">POST</span>
<span class="t" style="left:500.0px;top:1030.0px;font-size:19px;line-height:25px;color:#0a0a0a;letter-spacing:0.91px;font-weight:700;-webkit-text-stroke:0.3px currentColor;">/objects/vulns/count</span>
<div class="b" style="left:1574px;top:1023px;width:39px;height:39px;background:#eef1f4;border-radius:6px"></div>
<svg class="b" style="left:1580.25px;top:1029.25px;" width="26.5" height="26.5" viewBox="0 0 24 24" fill="none" stroke="#8a8fa3" stroke-width="2" stroke-linecap="round" stroke-linejoin="round"><path d="M12 1.500v21M17 5.500H9.500a3.250 3.250 0 0 0 0 6.500h5a3.250 3.250 0 0 1 0 6.500H6"/></svg>
<div class="b" style="left:1619.9px;top:1023px;width:39px;height:39px;background:#eef1f4;border-radius:6px"></div>
<svg class="b" style="left:1626.4px;top:1029.5px;" width="26" height="26" viewBox="0 0 24 24" fill="none" stroke="#8a8fa3" stroke-width="2" stroke-linecap="round" stroke-linejoin="round"><circle cx="12" cy="7.700" r="3.700"/><path d="M4.900 19.800c0-3.700 3.200-5.900 7.100-5.900s7.100 2.200 7.100 5.900"/></svg>
<div class="b" style="left:1665.8px;top:1023px;width:39px;height:39px;background:#eef1f4;border-radius:6px"></div>
<svg class="b" style="left:1671.3px;top:1028.5px;" width="28" height="28" viewBox="0 0 24 24" fill="none" stroke="#8a8fa3" stroke-width="2" stroke-linecap="round" stroke-linejoin="round"><circle cx="12" cy="12" r="10"/><path d="M10 6.500h4V10h3.500v4H14v3.500h-4V14H6.500v-4H10z"/></svg>
<div class="b" style="left:1838.6px;top:1029px;width:28.8px;height:29px;background:#f6f4ee;border-radius:5px"></div>
<svg class="b" style="left:1842.5px;top:1032.7px;color:#f5403f" width="21" height="21" viewBox="0 0 24 24" fill="none" stroke="#f5403f" stroke-width="2.3" stroke-linecap="round" stroke-linejoin="round"><path d="M7.200 17.800A8.300 8.300 0 1 1 16.800 17.800V21.300H7.200z"/><circle cx="9" cy="12.200" r="1.900" fill="currentColor" stroke="none"/><circle cx="15" cy="12.200" r="1.900" fill="currentColor" stroke="none"/><path d="M12 14.300l-.8 1.500h1.600z" fill="currentColor" stroke-width="0.800"/><path d="M10.300 21v-2.800M13.700 21v-2.800" stroke-width="1.600"/></svg>
<span class="t" style="left:2091.0px;top:1029.0px;font-size:21px;line-height:27px;color:#0a0a0a;letter-spacing:0.10px;text-decoration:underline;text-decoration-thickness:1.5px;text-underline-offset:3px;">3.4K</span>
<div class="b" style="left:2177.5px;top:1023px;width:49px;height:39px;background:#ef3f49;border-radius:5px"></div>
<span class="t" style="left:2186.5px;top:1029.5px;font-size:20px;line-height:26px;color:#fff;letter-spacing:1.60px;font-weight:700;-webkit-text-stroke:0.3px currentColor;">8.9</span>
<div class="b" style="left:2268.7px;top:1040.2px;width:4.6px;height:4.6px;background:#8a93a6;border-radius:50%"></div>
<div class="b" style="left:2276.2px;top:1040.2px;width:4.6px;height:4.6px;background:#8a93a6;border-radius:50%"></div>
<div class="b" style="left:2283.7px;top:1040.2px;width:4.6px;height:4.6px;background:#8a93a6;border-radius:50%"></div>
<div class="b" style="left:382px;top:1080.8px;width:1923px;height:1px;background:#e4e9ed"></div>
<div class="b" style="left:395px;top:1101.5px;width:91px;height:39px;background:#4fc55a;border-radius:5px"></div>
<span class="t" style="left:414.0px;top:1109.0px;font-size:18.7px;line-height:24px;color:#fff;letter-spacing:0.70px;font-weight:700;-webkit-text-stroke:0.3px currentColor;">POST</span>
<span class="t" style="left:500.0px;top:1108.5px;font-size:19px;line-height:25px;color:#0a0a0a;letter-spacing:0.68px;font-weight:700;-webkit-text-stroke:0.3px currentColor;">/billing/plans</span>
<div class="b" style="left:1404px;top:1101.5px;width:104px;height:39px;background:#e9eef4;border-radius:6px"></div>
<span class="t" style="left:1414.8px;top:1107.5px;font-size:21px;line-height:27px;color:#3b41e2;letter-spacing:-0.46px;">Changed</span>
<div class="b" style="left:1574px;top:1101.5px;width:39px;height:39px;background:#eef1f4;border-radius:6px"></div>
<svg class="b" style="left:1580.25px;top:1107.75px;" width="26.5" height="26.5" viewBox="0 0 24 24" fill="none" stroke="#8a8fa3" stroke-width="2" stroke-linecap="round" stroke-linejoin="round"><path d="M12 1.500v21M17 5.500H9.500a3.250 3.250 0 0 0 0 6.500h5a3.250 3.250 0 0 1 0 6.500H6"/></svg>
<div class="b" style="left:1619.9px;top:1101.5px;width:39px;height:39px;background:#eef1f4;border-radius:6px"></div>
<svg class="b" style="left:1626.4px;top:1108px;" width="26" height="26" viewBox="0 0 24 24" fill="none" stroke="#8a8fa3" stroke-width="2" stroke-linecap="round" stroke-linejoin="round"><circle cx="12" cy="7.700" r="3.700"/><path d="M4.900 19.800c0-3.700 3.200-5.900 7.100-5.900s7.100 2.200 7.100 5.900"/></svg>
<div class="b" style="left:1665.8px;top:1101.5px;width:39px;height:39px;background:#eef1f4;border-radius:6px"></div>
<svg class="b" style="left:1671.3px;top:1107px;" width="28" height="28" viewBox="0 0 24 24" fill="none" stroke="#8a8fa3" stroke-width="2" stroke-linecap="round" stroke-linejoin="round"><circle cx="12" cy="12" r="10"/><path d="M10 6.500h4V10h3.500v4H14v3.500h-4V14H6.500v-4H10z"/></svg>
<div class="b" style="left:1711.7px;top:1101.5px;width:39px;height:39px;background:#eef1f4;border-radius:6px"></div>
<svg class="b" style="left:1718.2px;top:1108px;" width="26" height="26" viewBox="0 0 24 24" fill="none" stroke="#8a8fa3" stroke-width="2" stroke-linecap="round" stroke-linejoin="round"><path transform="translate(24 0) scale(-1 1)" d="M14.700 6.300a1 1 0 0 0 0 1.400l1.600 1.600a1 1 0 0 0 1.400 0l3.770-3.770a6 6 0 0 1-7.940 7.940l-6.910 6.910a2.120 2.120 0 0 1-3-3l6.910-6.910a6 6 0 0 1 7.940-7.940l-3.760 3.760z"/></svg>
<div class="b" style="left:1757.6px;top:1101.5px;width:39px;height:39px;background:#eef1f4;border-radius:6px"></div>
<svg class="b" style="left:1764.1px;top:1108px;" width="26" height="26" viewBox="0 0 24 24" fill="none" stroke="#8a8fa3" stroke-width="2" stroke-linecap="round" stroke-linejoin="round"><circle cx="7.500" cy="16.500" r="4.800"/><path d="M11 13L21 3M17 7l3 3M14.500 9.500l2 2"/></svg>
<div class="b" style="left:1835.5px;top:1101.5px;width:39px;height:39px;background:#f6f4ee;border-radius:6px"></div>
<svg class="b" style="left:1835.5px;top:1101.5px" width="39" height="39" viewBox="0 0 39 39"><g fill="none" stroke="#ee3f46" stroke-width="2.200" stroke-linecap="round" stroke-linejoin="round"><path d="M14.300 9.200H11.800a2 2 0 0 0-2 2v5.600c0 1.500-1 2.600-3 2.600c2 0 3 1.100 3 2.600v5.800a2 2 0 0 0 2 2h2.500"/><path d="M24.700 9.200h2.500a2 2 0 0 1 2 2v5.600c0 1.500 1 2.600 3 2.600c-2 0-3 1.100-3 2.600v5.800a2 2 0 0 1-2 2h-2.500"/></g><text x="19.600" y="24.700" font-family="Liberation Sans, sans-serif" font-size="14.500" font-weight="700" text-anchor="middle" fill="#ee3f46" textLength="12.500" lengthAdjust="spacingAndGlyphs">ID</text></svg>
<span class="t" style="left:2122.8px;top:1107.5px;font-size:21px;line-height:27px;color:#0a0a0a;text-decoration:underline;text-decoration-thickness:1.5px;text-underline-offset:3px;">1</span>
<div class="b" style="left:2177.5px;top:1101.5px;width:49px;height:39px;background:#fc7303;border-radius:5px"></div>
<span class="t" style="left:2186.5px;top:1108.0px;font-size:20px;line-height:26px;color:#fff;letter-spacing:1.60px;font-weight:700;-webkit-text-stroke:0.3px currentColor;">6.9</span>
<div class="b" style="left:2268.7px;top:1118.7px;width:4.6px;height:4.6px;background:#8a93a6;border-radius:50%"></div>
<div class="b" style="left:2276.2px;top:1118.7px;width:4.6px;height:4.6px;background:#8a93a6;border-radius:50%"></div>
<div class="b" style="left:2283.7px;top:1118.7px;width:4.6px;height:4.6px;background:#8a93a6;border-radius:50%"></div>
<div class="b" style="left:382px;top:1159.3px;width:1923px;height:1px;background:#e4e9ed"></div>
<div class="b" style="left:395px;top:1180px;width:91px;height:39px;background:#4fc55a;border-radius:5px"></div>
<span class="t" style="left:414.0px;top:1187.5px;font-size:18.7px;line-height:24px;color:#fff;letter-spacing:0.70px;font-weight:700;-webkit-text-stroke:0.3px currentColor;">POST</span>
<span class="t" style="left:500.0px;top:1187.0px;font-size:19px;line-height:25px;color:#0a0a0a;letter-spacing:0.91px;font-weight:700;-webkit-text-stroke:0.3px currentColor;">/objects/vulns/count</span>
<div class="b" style="left:1838.3px;top:1177.2px;width:41.5px;height:41px;background:#f6f4ee;border-radius:6px"></div>
<svg class="b" style="left:1844.3px;top:1183px;" width="30" height="30" viewBox="0 0 30 30" fill="none" stroke="#f5403f" stroke-width="2.5" stroke-linecap="round" stroke-linejoin="round"><path d="M21.30 15.00L27.40 15.00M19.45 19.45L23.77 23.77M15.00 21.30L15.00 27.40M10.55 19.45L6.23 23.77M8.70 15.00L2.60 15.00M10.55 10.55L6.23 6.23M15.00 8.70L15.00 2.60M19.45 10.55L23.77 6.23"/></svg>
<span class="t" style="left:2094.0px;top:1186.0px;font-size:21px;line-height:27px;color:#0a0a0a;letter-spacing:-0.90px;text-decoration:underline;text-decoration-thickness:1.5px;text-underline-offset:3px;">1.3K</span>
<div class="b" style="left:2177.5px;top:1180px;width:49px;height:39px;background:#ef3f49;border-radius:5px"></div>
<span class="t" style="left:2186.5px;top:1186.5px;font-size:20px;line-height:26px;color:#fff;letter-spacing:1.60px;font-weight:700;-webkit-text-stroke:0.3px currentColor;">8.9</span>
<div class="b" style="left:2268.7px;top:1197.2px;width:4.6px;height:4.6px;background:#8a93a6;border-radius:50%"></div>
<div class="b" style="left:2276.2px;top:1197.2px;width:4.6px;height:4.6px;background:#8a93a6;border-radius:50%"></div>
<div class="b" style="left:2283.7px;top:1197.2px;width:4.6px;height:4.6px;background:#8a93a6;border-radius:50%"></div>
<div class="b" style="left:382px;top:1237.8px;width:1923px;height:1px;background:#e4e9ed"></div>
<div class="b" style="left:395px;top:1258.5px;width:91px;height:39px;background:#3b41e2;border-radius:5px"></div>
<span class="t" style="left:420.8px;top:1266.0px;font-size:18.7px;line-height:24px;color:#fff;letter-spacing:0.53px;font-weight:700;-webkit-text-stroke:0.3px currentColor;">GET</span>
<span class="t" style="left:500.0px;top:1265.5px;font-size:19px;line-height:25px;color:#0a0a0a;letter-spacing:0.79px;font-weight:700;-webkit-text-stroke:0.3px currentColor;">/billing/admin/subscriptions/latest</span>
<div class="b" style="left:1404px;top:1258.5px;width:104px;height:39px;background:#e9eef4;border-radius:6px"></div>
<span class="t" style="left:1414.8px;top:1264.5px;font-size:21px;line-height:27px;color:#3b41e2;letter-spacing:-0.46px;">Changed</span>
<span class="t" style="left:2122.8px;top:1264.5px;font-size:21px;line-height:27px;color:#9aa2b2;">–</span>
<div class="b" style="left:2177.5px;top:1258.5px;width:49px;height:39px;background:#fc7303;border-radius:5px"></div>
<span class="t" style="left:2186.5px;top:1265.0px;font-size:20px;line-height:26px;color:#fff;letter-spacing:1.60px;font-weight:700;-webkit-text-stroke:0.3px currentColor;">6.9</span>
<div class="b" style="left:2268.7px;top:1275.7px;width:4.6px;height:4.6px;background:#8a93a6;border-radius:50%"></div>
<div class="b" style="left:2276.2px;top:1275.7px;width:4.6px;height:4.6px;background:#8a93a6;border-radius:50%"></div>
<div class="b" style="left:2283.7px;top:1275.7px;width:4.6px;height:4.6px;background:#8a93a6;border-radius:50%"></div>
<div class="b" style="left:382px;top:1316.3px;width:1923px;height:1px;background:#e4e9ed"></div>
<div class="b" style="left:395px;top:1337px;width:91px;height:39px;background:#4fc55a;border-radius:5px"></div>
<span class="t" style="left:414.0px;top:1344.5px;font-size:18.7px;line-height:24px;color:#fff;letter-spacing:0.70px;font-weight:700;-webkit-text-stroke:0.3px currentColor;">POST</span>
<span class="t" style="left:500.0px;top:1344.0px;font-size:19px;line-height:25px;color:#0a0a0a;letter-spacing:0.91px;font-weight:700;-webkit-text-stroke:0.3px currentColor;">/objects/vulns/count</span>
<div class="b" style="left:1404px;top:1339.5px;width:104px;height:39px;background:#eff3ea;border-radius:6px"></div>
<span class="t" style="left:1436.0px;top:1345.5px;font-size:21px;line-height:27px;color:#4cc35a;letter-spacing:-1.01px;">New</span>
<span class="t" style="left:2080.0px;top:1343.0px;font-size:21px;line-height:27px;color:#0a0a0a;letter-spacing:-0.09px;">89.4K</span>
<div class="b" style="left:2177.5px;top:1337px;width:49px;height:39px;background:#8a92a6;border-radius:5px"></div>
<span class="t" style="left:2188.5px;top:1343.5px;font-size:20px;line-height:26px;color:#fff;letter-spacing:-0.40px;font-weight:700;-webkit-text-stroke:0.3px currentColor;">1.0</span>
<div class="b" style="left:2268.7px;top:1354.2px;width:4.6px;height:4.6px;background:#8a93a6;border-radius:50%"></div>
<div class="b" style="left:2276.2px;top:1354.2px;width:4.6px;height:4.6px;background:#8a93a6;border-radius:50%"></div>
<div class="b" style="left:2283.7px;top:1354.2px;width:4.6px;height:4.6px;background:#8a93a6;border-radius:50%"></div>
<div class="b" style="left:382px;top:1394.8px;width:1923px;height:1px;background:#e4e9ed"></div>
<div class="b" style="left:395px;top:1415.5px;width:91px;height:39px;background:#3b41e2;border-radius:5px"></div>
<span class="t" style="left:420.8px;top:1423.0px;font-size:18.7px;line-height:24px;color:#fff;letter-spacing:0.53px;font-weight:700;-webkit-text-stroke:0.3px currentColor;">GET</span>
<span class="t" style="left:500.0px;top:1422.5px;font-size:19px;line-height:25px;color:#0a0a0a;letter-spacing:0.79px;font-weight:700;-webkit-text-stroke:0.3px currentColor;">/billing/admin/subscriptions/latest</span>
<span class="t" style="left:2080.0px;top:1421.5px;font-size:21px;line-height:27px;color:#0a0a0a;letter-spacing:-0.09px;">89.4K</span>
<span class="t" style="left:1950.5px;top:1421.5px;font-size:21px;line-height:27px;color:#0a0a0a;letter-spacing:-0.90px;text-decoration:underline;text-decoration-thickness:1.5px;text-underline-offset:3px;">1.3K</span>
<div class="b" style="left:2177.5px;top:1415.5px;width:49px;height:39px;background:#8a92a6;border-radius:5px"></div>
<span class="t" style="left:2188.5px;top:1422.0px;font-size:20px;line-height:26px;color:#fff;letter-spacing:-0.40px;font-weight:700;-webkit-text-stroke:0.3px currentColor;">1.0</span>
<div class="b" style="left:2177.5px;top:1428.5px;width:49px;height:39px;background:#fc7303;border-radius:5px"></div>
<span class="t" style="left:2186.5px;top:1435.0px;font-size:20px;line-height:26px;color:#fff;letter-spacing:1.60px;font-weight:700;-webkit-text-stroke:0.3px currentColor;">6.9</span>
<div class="b" style="left:2268.7px;top:1432.7px;width:4.6px;height:4.6px;background:#8a93a6;border-radius:50%"></div>
<div class="b" style="left:2276.2px;top:1432.7px;width:4.6px;height:4.6px;background:#8a93a6;border-radius:50%"></div>
<div class="b" style="left:2283.7px;top:1432.7px;width:4.6px;height:4.6px;background:#8a93a6;border-radius:50%"></div>
<div class="b" style="left:382px;top:1473.3px;width:1923px;height:1px;background:#e4e9ed"></div>
<div class="b" style="left:395px;top:1494px;width:91px;height:39px;background:#3b41e2;border-radius:5px"></div>
<span class="t" style="left:420.8px;top:1501.5px;font-size:18.7px;line-height:24px;color:#fff;letter-spacing:0.53px;font-weight:700;-webkit-text-stroke:0.3px currentColor;">GET</span>
<div class="b" style="left:2177.5px;top:1494px;width:49px;height:39px;background:#8a92a6;border-radius:5px"></div>
<div class="b" style="left:2268.7px;top:1511.2px;width:4.6px;height:4.6px;background:#8a93a6;border-radius:50%"></div>
<div class="b" style="left:2276.2px;top:1511.2px;width:4.6px;height:4.6px;background:#8a93a6;border-radius:50%"></div>
<div class="b" style="left:2283.7px;top:1511.2px;width:4.6px;height:4.6px;background:#8a93a6;border-radius:50%"></div>
</section></main><div>
<div class="b" style="left:364px;top:356px;width:250px;height:72px;border:4px solid #fb5346;box-sizing:border-box;box-shadow:0.5px 5px 2.5px rgba(45,45,45,.62), inset 0.5px 5px 2.5px rgba(45,45,45,.52)"></div>
</div><div>
<svg class="b" style="left:520px;top:440px" width="530" height="415" viewBox="520 440 530 415"><rect x="526.300" y="444.200" width="519.700" height="406.800" fill="#9a9fb0"/><rect x="529.800" y="447.700" width="512.700" height="399.800" rx="5" fill="#fff"/></svg>
<div class="b" style="left:538px;top:456.5px;width:496px;height:63px;border:2px solid #fc7303;border-radius:9px;box-sizing:border-box;background:#fff"></div>
<svg class="b" style="left:555px;top:472.5px;" width="32" height="32" viewBox="0 0 24 24" fill="none" stroke="#8a93a6" stroke-width="2" stroke-linecap="round" stroke-linejoin="round"><circle cx="11" cy="11" r="8"/><path d="M21 21l-4.5-4.5"/></svg>
<div class="b" style="left:602px;top:468.5px;width:1.8px;height:39px;background:#fc7303"></div>
<span class="t" style="left:605.0px;top:469.0px;font-size:29px;line-height:38px;color:#9aa3b5;letter-spacing:0.34px;">Search specificaiton</span>
<span class="t" style="left:555.0px;top:541.0px;font-size:29px;line-height:38px;color:#0a0a0a;letter-spacing:0.44px;">Specification-01</span>
<span class="t" style="left:555.0px;top:621.0px;font-size:29px;line-height:38px;color:#0a0a0a;letter-spacing:0.64px;">Specification-02</span>
<span class="t" style="left:555.0px;top:701.0px;font-size:29px;line-height:38px;color:#0a0a0a;letter-spacing:0.64px;">Specification-03</span>
<span class="t" style="left:555.0px;top:781.0px;font-size:29px;line-height:38px;color:#0a0a0a;letter-spacing:0.64px;">Specification-04</span>
<svg class="b" style="left:987px;top:544px;" width="30" height="30" viewBox="0 0 24 24" fill="none" stroke="#fc7303" stroke-width="2.6" stroke-linecap="round" stroke-linejoin="round"><path d="M3 13l6 6L21 5"/></svg>
</div><div>
<div class="b" style="left:1913.5px;top:367.5px;width:231px;height:268px;background:#fff;border-left:1px solid #e9edf1;border-right:1px solid #e9edf1;border-top:1px solid #f1f3f5;box-sizing:border-box;box-shadow:0 -3px 6px rgba(0,0,0,.04)"></div>
<span class="t" style="left:1935.0px;top:385.5px;font-size:25.5px;line-height:33px;color:#424242;letter-spacing:-0.57px;">Shadow APIs</span>
<span class="t" style="left:1935.0px;top:453.5px;font-size:25.5px;line-height:33px;color:#424242;letter-spacing:-0.61px;">Orphan APIs</span>
<span class="t" style="left:1935.0px;top:521.5px;font-size:25.5px;line-height:33px;color:#424242;letter-spacing:-0.46px;">Zombie APIs</span>
<div class="b" style="left:1914.5px;top:573px;width:229px;height:1.5px;background:#e6eaee"></div>
<span class="t" style="left:1935.0px;top:591.5px;font-size:25.5px;line-height:33px;color:#fb8a3e;letter-spacing:-1.15px;">Reset</span>
</div><div>
<svg class="b" style="left:0;top:0" width="2354" height="1502" viewBox="0 0 2354 1502" fill="none"><defs><filter id="sh" x="-20%" y="-20%" width="140%" height="140%"><feDropShadow dx="1" dy="3.800" stdDeviation="1.600" flood-color="#2a2a2a" flood-opacity=".52"/></filter><filter id="sz" x="-20%" y="-20%" width="140%" height="140%"><feDropShadow dx="1.500" dy="3.800" stdDeviation="1.500" flood-color="#3a3a44" flood-opacity=".38"/></filter><filter id="sl" x="-5%" y="-5%" width="110%" height="110%"><feDropShadow dx="-1" dy="4.500" stdDeviation="1.800" flood-color="#444" flood-opacity=".45"/></filter></defs><g stroke="#f93535" stroke-width="1.700" filter="url(#sl)"><path d="M1799.700 481V728.200H1866"/><path d="M1424.500 978.500V1044.700H1818"/><path d="M1741.800 1372.500V1201.600H1819"/></g><g filter="url(#sh)"><ellipse cx="1904.300" cy="723.200" rx="36.700" ry="38.300" stroke="#f4514d" stroke-width="4.800"/><circle cx="1857.900" cy="1196.100" r="37.850" stroke="#fb5246" stroke-width="4.300"/></g><g filter="url(#sz)"><ellipse cx="1852.100" cy="1044.200" rx="33.100" ry="34.750" stroke="#f93b3b" stroke-width="3.300"/></g></svg>
<span class="t" style="left:1737.0px;top:441.8px;font-size:24.5px;line-height:32px;color:#f5524e;letter-spacing:-0.74px;font-weight:700;-webkit-text-stroke:0.3px currentColor;">Shadow API</span>
<span class="t" style="left:1372.5px;top:943.8px;font-size:24.5px;line-height:32px;color:#f5524e;letter-spacing:-0.65px;font-weight:700;-webkit-text-stroke:0.3px currentColor;">Zombie API</span>
<span class="t" style="left:1679.0px;top:1385.8px;font-size:24.5px;line-height:32px;color:#f5524e;letter-spacing:-0.71px;font-weight:700;-webkit-text-stroke:0.3px currentColor;">Orphan API</span>
</div>
</body></html>
